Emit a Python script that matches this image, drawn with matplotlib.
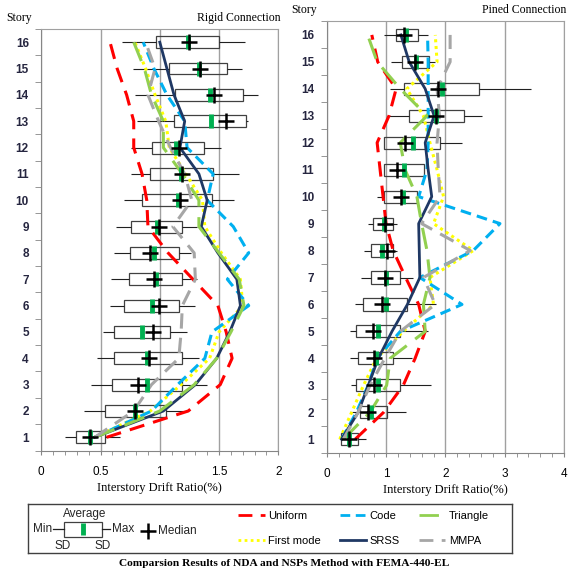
import numpy as np
import matplotlib.pyplot as plt
from matplotlib.patches import Rectangle
from matplotlib.lines import Line2D
from matplotlib.ticker import MultipleLocator, FormatStrFormatter

stories = np.arange(1, 17)

# ---- Rigid connection: NDA statistics per story (story 1..16)
rig_min = [0.20, 0.36, 0.42, 0.47, 0.52, 0.58, 0.59, 0.61, 0.63, 0.70, 0.76, 0.76, 0.81, 0.79, 0.77, 0.68]
rig_sd_lo = [0.29, 0.54, 0.60, 0.61, 0.61, 0.70, 0.74, 0.75, 0.76, 0.85, 0.92, 0.93, 1.12, 1.13, 1.08, 0.97]
rig_sd_hi = [0.54, 1.05, 1.19, 1.19, 1.09, 1.16, 1.19, 1.16, 1.19, 1.44, 1.45, 1.37, 1.73, 1.70, 1.57, 1.50]
rig_max = [0.66, 1.23, 1.40, 1.33, 1.23, 1.30, 1.31, 1.26, 1.31, 1.63, 1.67, 1.52, 1.74, 1.83, 1.69, 1.72]
rig_avg = [0.41, 0.79, 0.89, 0.89, 0.85, 0.93, 0.97, 0.95, 0.98, 1.15, 1.18, 1.14, 1.43, 1.42, 1.33, 1.24]
rig_med = [0.41, 0.79, 0.82, 0.91, 0.94, 0.99, 0.95, 0.92, 0.99, 1.17, 1.19, 1.16, 1.56, 1.46, 1.34, 1.25]

rig_uniform = [0.55, 1.24, 1.51, 1.61, 1.56, 1.49, 1.28, 1.07, 0.90, 0.89, 0.85, 0.78, 0.78, 0.72, 0.64, 0.58]
rig_code = [0.45, 0.93, 1.15, 1.38, 1.44, 1.75, 1.57, 1.75, 1.62, 1.40, 1.45, 1.23, 1.21, 1.06, 0.95, 0.86]
rig_triangle = [0.45, 1.00, 1.29, 1.48, 1.60, 1.71, 1.67, 1.50, 1.33, 1.33, 1.19, 1.03, 1.03, 0.93, 0.87, 0.78]
rig_first = [0.45, 0.92, 1.18, 1.42, 1.50, 1.70, 1.68, 1.52, 1.38, 1.36, 1.22, 1.08, 1.05, 0.96, 0.88, 0.79]
rig_srss = [0.45, 1.03, 1.30, 1.48, 1.59, 1.68, 1.65, 1.49, 1.35, 1.40, 1.33, 1.17, 1.21, 1.12, 1.06, 1.00]
rig_mmpa = [0.45, 0.78, 0.93, 1.16, 1.18, 1.19, 1.30, 1.29, 1.11, 1.27, 1.21, 1.09, 0.99, 0.90, 0.96, 0.88]

# ---- Pined connection
pin_min = [0.24, 0.39, 0.41, 0.39, 0.40, 0.47, 0.57, 0.63, 0.70, 0.84, 0.96, 0.97, 1.02, 1.06, 1.08, 0.97]
pin_sd_lo = [0.24, 0.56, 0.49, 0.52, 0.49, 0.61, 0.74, 0.74, 0.78, 0.97, 0.96, 0.97, 1.39, 1.30, 1.27, 1.16]
pin_sd_hi = [0.52, 1.01, 1.24, 1.12, 1.24, 1.36, 1.24, 1.11, 1.12, 1.53, 1.64, 1.91, 2.31, 2.56, 1.73, 1.54]
pin_max = [0.67, 1.34, 1.75, 1.43, 1.70, 1.84, 1.45, 1.19, 1.18, 1.53, 1.64, 2.28, 2.61, 3.44, 1.83, 1.70]
pin_avg = [0.38, 0.74, 0.87, 0.83, 0.87, 1.00, 1.00, 0.93, 0.96, 1.28, 1.30, 1.46, 1.84, 1.94, 1.51, 1.34]
pin_med = [0.38, 0.70, 0.79, 0.80, 0.78, 0.94, 0.98, 1.01, 0.98, 1.26, 1.18, 1.32, 1.84, 1.87, 1.48, 1.31]

pin_uniform = [0.48, 0.96, 1.29, 1.49, 1.66, 1.55, 1.33, 1.12, 1.00, 0.95, 0.90, 0.85, 1.05, 1.17, 0.86, 0.76]
pin_code = [0.25, 0.50, 0.70, 0.85, 1.24, 2.28, 1.57, 2.47, 2.92, 1.55, 1.69, 1.71, 1.71, 1.71, 1.71, 1.70]
pin_triangle = [0.28, 0.73, 1.01, 1.07, 1.66, 1.63, 1.74, 1.69, 1.60, 1.52, 1.32, 1.24, 1.69, 1.24, 0.85, 0.69]
pin_first = [0.22, 0.42, 0.62, 0.84, 1.29, 1.80, 1.74, 2.47, 1.80, 1.97, 1.86, 1.74, 1.63, 1.35, 1.86, 1.83]
pin_srss = [0.25, 0.53, 0.70, 0.87, 1.10, 1.36, 1.57, 1.56, 1.55, 1.77, 1.71, 1.66, 1.81, 1.66, 1.39, 1.25]
pin_mmpa = [0.28, 0.53, 0.73, 0.98, 1.24, 1.83, 1.63, 2.42, 1.60, 1.91, 1.88, 1.86, 1.90, 1.86, 2.08, 2.08]

method_names = ["Uniform", "First mode", "Code", "SRSS", "Triangle", "MMPA"]
method_styles = {
    "Uniform": dict(color="#ff0000", ls=(0, (5, 3))),
    "Code": dict(color="#00b0f0", ls=(0, (3.5, 2))),
    "Triangle": dict(color="#92d050", ls=(0, (7, 3.5))),
    "First mode": dict(color="#ffff00", ls=(0, (1, 1.2))),
    "SRSS": dict(color="#1f3864", ls="-"),
    "MMPA": dict(color="#a6a6a6", ls=(0, (5, 3))),
}

SERIF = "Liberation Serif"
SANS = "Liberation Sans"
TICK_COL = "#262640"

fig = plt.figure(figsize=(5.68, 5.75), dpi=100)
ax1 = fig.add_axes([0.0727, 0.2165, 0.4173, 0.733])
ax2 = fig.add_axes([0.5752, 0.2127, 0.4178, 0.750])


def draw_panel(ax, mn, lo, hi, mx, avg, med, lines, xmax, xminor, title, ypad):
    # box = SD range, whiskers = min / max
    ax.barh(stories, np.array(hi) - np.array(lo), left=lo, height=0.45,
            facecolor="none", edgecolor="#404040", lw=0.9, zorder=2)
    ax.hlines(stories, mn, lo, color="#202020", lw=0.8, zorder=2)
    ax.hlines(stories, hi, mx, color="#202020", lw=0.8, zorder=2)
    for name in method_names:
        st = method_styles[name]
        ax.plot(lines[name], stories, color=st["color"], ls=st["ls"],
                lw=2.2 if name != "SRSS" else 2.0, zorder=3)
    ax.plot(avg, stories, ls="none", marker="|", color="#00b050",
            ms=10, mew=3.5, zorder=4)
    ax.plot(med, stories, ls="none", marker="+", color="black",
            ms=11, mew=1.8, zorder=5)

    ax.set_xlim(0, xmax)
    ax.set_ylim(0.5, 16.5)
    ax.xaxis.set_major_locator(MultipleLocator(0.5 if xmax == 2 else 1))
    ax.xaxis.set_major_formatter(FormatStrFormatter("%g"))
    ax.xaxis.set_minor_locator(MultipleLocator(xminor))
    ax.set_yticks(stories)
    ax.yaxis.set_minor_locator(MultipleLocator(1, offset=0.5))
    ax.tick_params(axis="y", which="major", length=0, pad=ypad, labelsize=8.5,
                   labelcolor=TICK_COL)
    ax.tick_params(axis="y", which="minor", length=4, color="#868686")
    ax.tick_params(axis="x", which="both", length=3, color="#868686",
                   labelsize=8.5, labelcolor="black", pad=8)
    for lab in ax.get_yticklabels():
        lab.set_fontweight("bold")
        lab.set_fontfamily(SANS)
    for lab in ax.get_xticklabels():
        lab.set_fontfamily(SANS)
    ax.grid(axis="x", which="major", color="#a0a0a0", lw=1.0, zorder=0)
    ax.set_axisbelow(True)
    for s in ["left", "bottom"]:
        ax.spines[s].set_color("#868686")
    for s in ["top", "right"]:
        ax.spines[s].set_color("#a0a0a0")
    ax.set_xlabel("Interstory Drift Ratio(%)", family=SERIF, fontsize=9, labelpad=3)
    ax.text(-0.095, 1.012, "Story", transform=ax.transAxes, family=SERIF,
            fontsize=8.5, ha="center", va="bottom")
    ax.text(1.008, 1.012, title, transform=ax.transAxes, family=SERIF,
            fontsize=8.5, ha="right", va="bottom")


draw_panel(ax1, rig_min, rig_sd_lo, rig_sd_hi, rig_max, rig_avg, rig_med,
           {"Uniform": rig_uniform, "Code": rig_code, "Triangle": rig_triangle,
            "First mode": rig_first, "SRSS": rig_srss, "MMPA": rig_mmpa},
           2, 0.1, "Rigid Connection", 9)
draw_panel(ax2, pin_min, pin_sd_lo, pin_sd_hi, pin_max, pin_avg, pin_med,
           {"Uniform": pin_uniform, "Code": pin_code, "Triangle": pin_triangle,
            "First mode": pin_first, "SRSS": pin_srss, "MMPA": pin_mmpa},
           4, 0.2, "Pined Connection", 9)

# ---- legend panel (box-plot key + line key)
lg = fig.add_axes([0.0493, 0.0383, 0.852, 0.0852])
lg.set_xlim(0, 484)
lg.set_ylim(0, 49)
lg.set_xticks([])
lg.set_yticks([])
for s in lg.spines.values():
    s.set_color("#404040")
    s.set_linewidth(1.0)
lg.add_patch(Rectangle((36, 16), 38, 15, facecolor="none", edgecolor="#404040", lw=0.9))
lg.plot([25, 36], [23.5, 23.5], color="#202020", lw=0.9)
lg.plot([74, 82], [23.5, 23.5], color="#202020", lw=0.9)
lg.plot([55], [23.5], marker="|", color="#00b050", ms=9, mew=3.5)
lg.plot([120], [22], marker="+", color="black", ms=11, mew=1.8)
kw = dict(family=SANS, fontsize=8.5, color="#262626")
lg.text(57, 39, "Average", ha="center", va="center", **kw)
lg.text(24, 24, "Min", ha="right", va="center", **kw)
lg.text(84, 24, "Max", ha="left", va="center", **kw)
lg.text(35, 7, "SD", ha="center", va="center", **kw)
lg.text(75, 7, "SD", ha="center", va="center", **kw)
lg.text(130, 22, "Median", ha="left", va="center", **kw)

handles = [Line2D([], [], color=method_styles[n]["color"], ls=method_styles[n]["ls"],
                  lw=2.0) for n in method_names]
leg = lg.legend(handles, method_names, ncol=3, loc="center left",
                bbox_to_anchor=(200 / 484, 0.5), frameon=False,
                prop={"family": SANS, "size": 8}, handlelength=2.4,
                handletextpad=0.3, columnspacing=1.7, labelspacing=1.4)

fig.text(0.5, 0.013, "Comparsion Results of NDA and NSPs Method with FEMA-440-EL",
         family=SERIF, fontsize=8.2, fontweight="bold", ha="center", va="bottom")

fig.savefig("out.png", dpi=100)
